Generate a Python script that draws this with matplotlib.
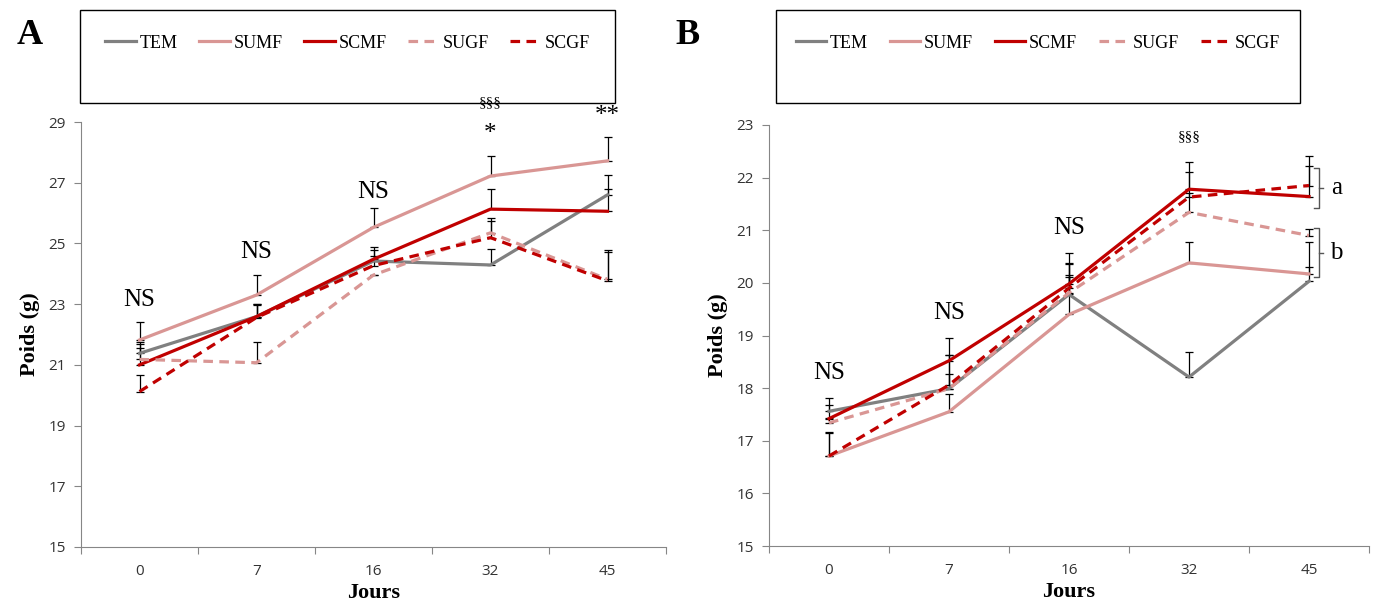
import matplotlib.pyplot as plt
from matplotlib.patches import Rectangle
from matplotlib.ticker import FixedLocator, NullFormatter
import numpy as np

jours = ["0", "7", "16", "32", "45"]
groups = ["TEM", "SUMF", "SCMF", "SUGF", "SCGF"]

# panel A - means
a_tem = [21.38, 22.59, 24.42, 24.29, 26.60]
a_sumf = [21.82, 23.30, 25.53, 27.22, 27.72]
a_scmf = [21.00, 22.59, 24.48, 26.13, 26.06]
a_sugf = [21.18, 21.07, 23.96, 25.35, 23.82]
a_scgf = [20.12, 22.56, 24.27, 25.19, 23.77]
# panel A - error (upper only)
a_tem_err = [0.37, 0.40, 0.15, 0.54, 0.65]
a_sumf_err = [0.58, 0.65, 0.63, 0.67, 0.80]
a_scmf_err = [0.56, 0.42, 0.40, 0.65, 0.72]
a_sugf_err = [0.50, 0.69, 0.00, 0.50, 0.97]
a_scgf_err = [0.53, 0.40, 0.50, 0.55, 0.95]

# panel B - means
b_tem = [17.56, 17.99, 19.78, 18.21, 20.03]
b_sumf = [16.71, 17.55, 19.40, 20.38, 20.17]
b_scmf = [17.42, 18.52, 19.98, 21.78, 21.64]
b_sugf = [17.34, 17.99, 19.81, 21.34, 20.90]
b_scgf = [16.71, 18.06, 19.90, 21.63, 21.85]
# panel B - error (upper only)
b_tem_err = [0.25, 0.63, 0.57, 0.47, 0.27]
b_sumf_err = [0.45, 0.34, 0.72, 0.40, 0.60]
b_scmf_err = [0.25, 0.43, 0.58, 0.51, 0.58]
b_sugf_err = [0.10, 0.63, 0.57, 0.37, 0.13]
b_scgf_err = [0.44, 0.20, 0.25, 0.47, 0.56]

a_notes = [("NS", 0, 23.14), ("NS", 1, 24.72), ("NS", 2, 26.69),
           ("§§§", 3, 29.63), ("*", 3, 28.6), ("**", 4, 29.2)]
b_notes = [("NS", 0, 18.28), ("NS", 1, 19.42), ("NS", 2, 21.05),
           ("§§§", 3, 22.78)]

colors = ["#808080", "#d99694", "#c00000", "#d99694", "#c00000"]
styles = ["-", "-", "-", (0, (3, 2)), (0, (3, 2))]

serif = "Liberation Serif"
sans = "Open Sans"

fig = plt.figure(figsize=(13.76, 6.04), dpi=100)
axA = fig.add_axes([81 / 1376, 1 - 547 / 604, 585 / 1376, 425 / 604])
axB = fig.add_axes([769 / 1376, 1 - 546 / 604, 600 / 1376, 421 / 604])


def draw(ax, means, errs, ylim, yticks, notes):
    x = np.arange(len(jours))
    lines = []
    for m, e in zip(means, errs):
        ax.errorbar(x, m, yerr=[np.zeros(len(e)), e], fmt="none",
                    ecolor="black", elinewidth=0.9, capsize=3, capthick=0.9,
                    zorder=2)
    for m, c, s, g in zip(means, colors, styles, groups):
        ln, = ax.plot(x, m, color=c, linestyle=s, lw=2.3, label=g, zorder=3)
        lines.append(ln)
    ax.set_xlim(-0.5, len(jours) - 0.5)
    ax.set_ylim(*ylim)
    ax.set_yticks(yticks)
    ax.xaxis.set_major_locator(FixedLocator(np.arange(-0.5, len(jours), 1.0)))
    ax.xaxis.set_major_formatter(NullFormatter())
    ax.xaxis.set_minor_locator(FixedLocator(x))
    ax.set_xticklabels(jours, minor=True)
    ax.tick_params(axis="x", which="minor", length=0, pad=12,
                   labelsize=11, labelcolor="#333333")
    ax.tick_params(axis="x", which="major", length=5, color="#868686")
    ax.tick_params(axis="y", length=5, color="#868686", labelsize=11,
                   labelcolor="#333333", pad=6)
    for lab in ax.get_xticklabels(minor=True) + ax.get_yticklabels():
        lab.set_fontfamily(sans)
    for sp in ["top", "right"]:
        ax.spines[sp].set_visible(False)
    for sp in ["left", "bottom"]:
        ax.spines[sp].set_color("#868686")
    ax.set_xlabel("Jours", fontfamily=serif, fontweight="bold", fontsize=16,
                  labelpad=3)
    ax.set_ylabel("Poids (g)", fontfamily=serif, fontweight="bold",
                  fontsize=16, labelpad=6)
    for txt, xi, yi in notes:
        size = 11 if txt == "§§§" else 18
        ax.text(xi, yi, txt, ha="center", va="center", fontsize=size,
                fontfamily=serif, clip_on=False)
    return lines


lines = draw(axA, [a_tem, a_sumf, a_scmf, a_sugf, a_scgf],
             [a_tem_err, a_sumf_err, a_scmf_err, a_sugf_err, a_scgf_err],
             (15, 29), range(15, 30, 2), a_notes)
draw(axB, [b_tem, b_sumf, b_scmf, b_sugf, b_scgf],
     [b_tem_err, b_sumf_err, b_scmf_err, b_sugf_err, b_scgf_err],
     (15, 23), range(15, 24), b_notes)

# brackets a / b on panel B
for y0, y1, lab in [(22.18, 21.43, "a"), (21.04, 20.11, "b")]:
    ym = (y0 + y1) / 2
    axB.plot([4.04, 4.08, 4.08, 4.04], [y0, y0, y1, y1], color="#555555",
             lw=1, clip_on=False)
    axB.plot([4.08, 4.12], [ym, ym], color="#555555", lw=1, clip_on=False)
    axB.text(4.23, ym, lab, ha="center", va="center", fontsize=18,
             fontfamily=serif, clip_on=False)

# legend boxes
for x0, x1 in [(80, 615), (776, 1300)]:
    fig.patches.append(Rectangle((x0 / 1376, 1 - 103 / 604),
                                 (x1 - x0) / 1376, 93 / 604,
                                 transform=fig.transFigure, fill=False,
                                 edgecolor="black", lw=1))
    fig.legend(handles=lines, loc="center", ncol=5, frameon=False,
               bbox_to_anchor=((x0 + x1) / 2 / 1376, 1 - 43 / 604),
               prop={"family": serif, "size": 13}, handlelength=1.7,
               handletextpad=0.2, columnspacing=1.2)

fig.text(30 / 1376, 1 - 35 / 604, "A", fontfamily=serif, fontweight="bold",
         fontsize=26, ha="center", va="center")
fig.text(688 / 1376, 1 - 35 / 604, "B", fontfamily=serif, fontweight="bold",
         fontsize=26, ha="center", va="center")

fig.savefig("out.png", dpi=100)
